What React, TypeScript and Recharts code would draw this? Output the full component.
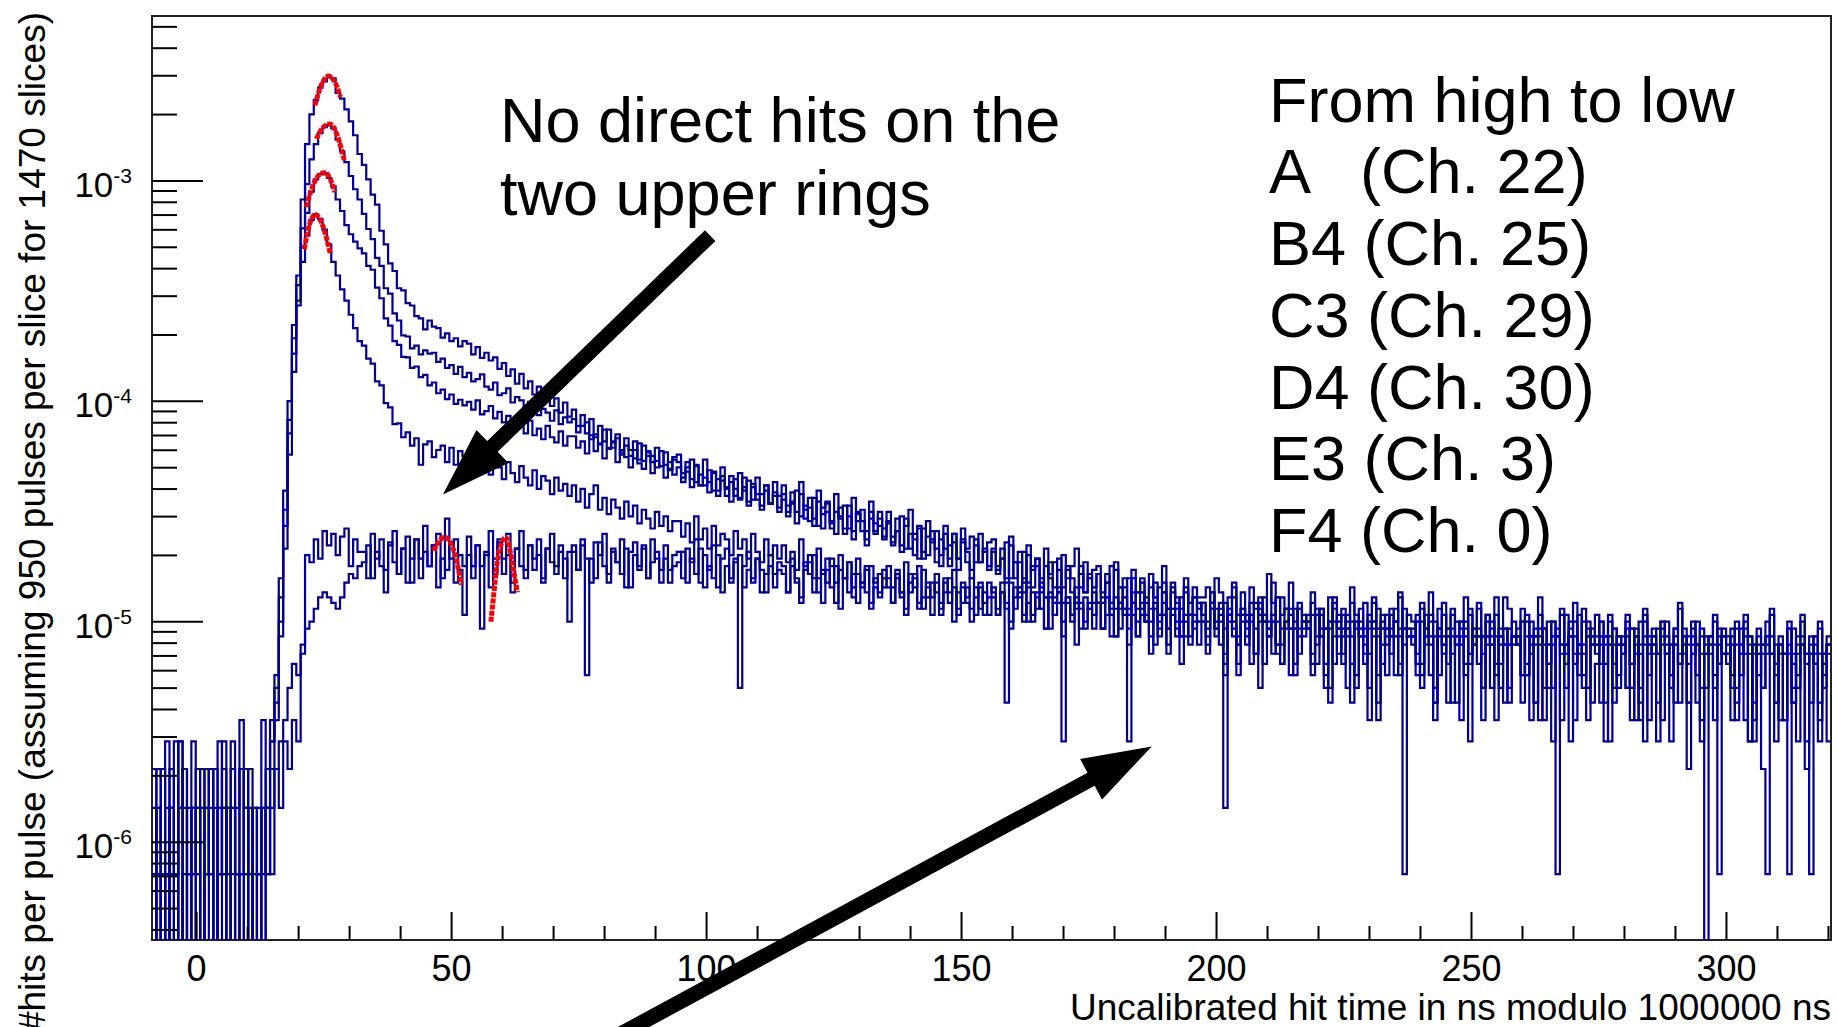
import React from 'react';
import { ComposedChart, Line, XAxis, YAxis, ReferenceArea, ReferenceLine } from 'recharts';

const WIDTH = 1837;
const HEIGHT = 1027;
const PLOT_LEFT = 152;
const PLOT_TOP = 16;
const PLOT_RIGHT = 1831;
const PLOT_BOTTOM = 940;

const FONT = '"Liberation Sans", Arial, Helvetica, sans-serif';
const HIST_COLOR = '#000099';
const FIT_COLOR = '#ff0000';

// time axis, ns (histogram range and binning)
const X_MIN = -8.75;
const X_MAX = 320.5;
const N_BINS = 384;
const BIN_WIDTH = (X_MAX - X_MIN) / N_BINS;

// rate axis, hits per pulse
const Y_MIN = 3.6e-7;
const Y_MAX = 5.6e-3;

// 950 pulses per slice, 1470 slices
const PULSES = 950 * 1470;
const EMPTY = 1e-8; // empty bins fall below the frame

const X_TICKS = [0, 10, 20, 30, 40, 50, 60, 70, 80, 90, 100, 110, 120, 130, 140, 150, 160, 170, 180, 190, 200, 210, 220, 230, 240, 250, 260, 270, 280, 290, 300, 310, 320];
const X_LABELED = [0, 50, 100, 150, 200, 250, 300];

const Y_TICKS = [
  4e-7, 5e-7, 6e-7, 7e-7, 8e-7, 9e-7,
  1e-6, 2e-6, 3e-6, 4e-6, 5e-6, 6e-6, 7e-6, 8e-6, 9e-6,
  1e-5, 2e-5, 3e-5, 4e-5, 5e-5, 6e-5, 7e-5, 8e-5, 9e-5,
  1e-4, 2e-4, 3e-4, 4e-4, 5e-4, 6e-4, 7e-4, 8e-4, 9e-4,
  1e-3, 2e-3, 3e-3, 4e-3, 5e-3,
];
const Y_MAJOR = [1e-6, 1e-5, 1e-4, 1e-3];
const Y_EXPONENTS = ['-6', '-5', '-4', '-3'];

// hit counts per bin, 24 bins per line
const countsA = [
  1, 0, 3, 0, 2, 1, 4, 0, 1, 2, 3, 0, 1, 2, 0, 4, 1, 2, 0, 1, 3, 2, 0, 2,
  1, 2, 1, 5, 8, 22, 55, 140, 310, 520, 1150, 2050, 2800, 3250, 3700, 3950, 4150, 4080, 3500, 3300, 2950, 2600, 2250, 1850,
  1650, 1420, 1210, 1090, 830, 720, 590, 545, 455, 445, 390, 380, 340, 332, 296, 325, 305, 300, 272, 284, 262, 270, 248, 262,
  255, 228, 246, 220, 232, 214, 221, 196, 208, 182, 195, 168, 186, 160, 172, 150, 163, 141, 158, 133, 144, 124, 138, 119,
  128, 108, 121, 100, 116, 96, 108, 92, 104, 86, 99, 84, 95, 79, 92, 76, 88, 83, 74, 86, 71, 82, 68, 78,
  80, 66, 74, 62, 71, 58, 76, 60, 67, 55, 70, 57, 64, 52, 66, 55, 61, 50, 63, 53, 58, 48, 60, 52,
  58, 47, 54, 44, 60, 45, 51, 41, 55, 43, 49, 39, 53, 42, 47, 37, 51, 40, 45, 36, 49, 39, 44, 37,
  44, 34, 41, 31, 38, 45, 33, 37, 29, 40, 32, 36, 28, 38, 31, 35, 27, 37, 30, 34, 26, 35, 29, 32,
  33, 25, 30, 22, 34, 26, 29, 21, 31, 24, 27, 20, 30, 23, 26, 19, 28, 22, 25, 30, 20, 26, 22, 24,
  25, 19, 23, 17, 26, 20, 22, 16, 24, 19, 21, 15, 23, 18, 20, 25, 16, 21, 18, 14, 22, 17, 20, 18,
  18, 20, 17, 22, 19, 13, 18, 21, 15, 19, 12, 20, 16, 18, 14, 23, 17, 11, 18, 16, 21, 14, 17, 13,
  15, 19, 12, 16, 13, 18, 9, 14, 16, 12, 20, 15, 13, 17, 10, 18, 13, 15, 8, 16, 14, 19, 13, 15,
  14, 10, 17, 13, 19, 14, 8, 15, 13, 16, 11, 14, 18, 9, 13, 17, 12, 14, 7, 15, 11, 18, 16, 12,
  13, 16, 9, 14, 12, 18, 13, 7, 14, 12, 15, 10, 13, 17, 8, 16, 12, 13, 11, 14, 6, 15, 13, 11,
  12, 15, 9, 13, 7, 16, 12, 13, 10, 14, 12, 8, 13, 17, 11, 12, 14, 6, 13, 11, 12, 15, 9, 13,
  12, 8, 14, 11, 15, 12, 6, 13, 11, 12, 16, 9, 12, 10, 14, 7, 12, 15, 10, 12, 9, 14, 10, 12,
];

const countsB4 = [
  2, 1, 0, 4, 1, 0, 2, 3, 0, 1, 2, 0, 3, 1, 2, 0, 1, 2, 4, 0, 1, 3, 1, 0,
  2, 1, 3, 4, 7, 18, 45, 115, 270, 470, 850, 1350, 1750, 2050, 2300, 2450, 2500, 2420, 2150, 1900, 1700, 1470, 1280, 1150,
  990, 845, 760, 625, 575, 455, 430, 350, 325, 278, 275, 243, 250, 228, 238, 230, 232, 211, 218, 198, 204, 186, 200, 180,
  188, 172, 176, 185, 163, 158, 170, 149, 152, 160, 138, 146, 141, 127, 139, 133, 121, 129, 124, 114, 127, 110, 118, 112,
  116, 101, 108, 112, 94, 99, 90, 104, 86, 92, 95, 80, 88, 84, 77, 90, 75, 82, 79, 70, 83, 72, 69, 76,
  74, 63, 70, 76, 60, 65, 58, 68, 55, 62, 64, 52, 60, 56, 50, 63, 49, 57, 53, 47, 58, 48, 54, 46,
  53, 44, 49, 55, 42, 47, 40, 51, 38, 46, 48, 37, 44, 41, 35, 47, 36, 43, 40, 33, 44, 36, 41, 34,
  40, 32, 36, 42, 30, 35, 28, 38, 27, 34, 36, 26, 33, 30, 25, 35, 27, 32, 29, 24, 33, 26, 30, 25,
  30, 24, 27, 32, 22, 26, 20, 29, 21, 25, 27, 19, 25, 22, 18, 27, 20, 24, 22, 17, 25, 19, 23, 20,
  23, 17, 21, 25, 16, 20, 15, 22, 17, 19, 22, 14, 20, 18, 13, 21, 16, 19, 17, 12, 20, 15, 18, 16,
  17, 13, 19, 16, 11, 17, 15, 20, 12, 16, 15, 9, 17, 15, 18, 14, 21, 10, 15, 16, 13, 8, 16, 15,
  14, 17, 11, 15, 9, 14, 18, 13, 15, 7, 14, 13, 16, 10, 14, 17, 8, 13, 15, 12, 14, 18, 11, 13,
  13, 9, 16, 12, 14, 6, 13, 17, 12, 10, 14, 13, 8, 16, 12, 13, 10, 15, 12, 18, 9, 13, 11, 14,
  12, 8, 15, 11, 13, 12, 5, 14, 11, 12, 16, 9, 12, 14, 10, 7, 13, 12, 15, 9, 12, 11, 13, 8,
  11, 14, 9, 12, 6, 15, 11, 12, 10, 13, 11, 7, 12, 16, 10, 11, 13, 8, 12, 10, 11, 14, 1, 12,
  11, 7, 13, 10, 14, 11, 5, 12, 10, 11, 15, 8, 11, 10, 13, 6, 11, 14, 9, 11, 10, 13, 8, 11,
];

const countsC3 = [
  1, 3, 0, 1, 2, 4, 0, 1, 2, 0, 1, 3, 2, 1, 0, 2, 3, 0, 1, 2, 5, 1, 1, 2,
  0, 2, 2, 4, 6, 14, 38, 100, 230, 400, 700, 1000, 1250, 1420, 1500, 1510, 1440, 1320, 1150, 1020, 880, 800, 740, 690,
  655, 575, 552, 458, 410, 332, 308, 262, 252, 222, 221, 198, 201, 180, 184, 165, 170, 152, 158, 143, 150, 136, 142, 134,
  139, 128, 141, 122, 126, 133, 117, 125, 112, 120, 106, 116, 109, 100, 114, 98, 105, 94, 108, 96, 91, 102, 88, 97,
  97, 86, 92, 81, 98, 83, 89, 77, 85, 91, 74, 82, 78, 70, 84, 73, 69, 79, 66, 75, 71, 63, 74, 65,
  70, 60, 67, 57, 72, 58, 63, 54, 66, 52, 61, 56, 49, 62, 51, 57, 47, 59, 50, 45, 55, 48, 52, 44,
  50, 42, 48, 39, 53, 41, 46, 38, 49, 37, 44, 40, 35, 46, 37, 42, 33, 44, 36, 31, 41, 35, 38, 33,
  39, 31, 36, 29, 41, 30, 35, 27, 37, 28, 33, 30, 25, 35, 27, 32, 24, 33, 26, 22, 31, 26, 29, 24,
  29, 23, 27, 21, 31, 22, 26, 19, 28, 20, 25, 22, 18, 26, 20, 24, 17, 25, 19, 16, 23, 19, 22, 17,
  23, 18, 21, 16, 24, 17, 20, 15, 22, 16, 19, 17, 14, 21, 15, 19, 13, 20, 16, 12, 19, 15, 18, 14,
  17, 14, 19, 13, 16, 2, 15, 18, 11, 16, 14, 15, 10, 17, 14, 12, 15, 18, 9, 14, 15, 13, 16, 14,
  14, 10, 16, 13, 8, 14, 17, 12, 13, 15, 9, 14, 12, 13, 7, 14, 16, 11, 13, 10, 14, 12, 16, 13,
  12, 15, 9, 13, 8, 12, 16, 10, 13, 12, 6, 14, 12, 10, 13, 9, 12, 15, 11, 12, 7, 13, 11, 12,
  11, 14, 8, 12, 6, 15, 11, 9, 12, 13, 5, 11, 12, 9, 15, 11, 7, 12, 11, 14, 9, 12, 6, 11,
  11, 7, 13, 10, 14, 11, 5, 12, 10, 11, 14, 8, 11, 9, 13, 6, 11, 14, 10, 7, 12, 11, 9, 12,
  10, 13, 7, 11, 5, 12, 10, 8, 11, 14, 10, 6, 11, 10, 1, 13, 8, 11, 10, 6, 12, 10, 7, 11,
];

const countsD4 = [
  0, 2, 1, 0, 3, 1, 2, 0, 1, 4, 0, 2, 1, 3, 0, 1, 2, 0, 2, 1, 3, 0, 2, 1,
  1, 0, 2, 3, 5, 12, 30, 80, 190, 380, 600, 790, 930, 985, 940, 840, 720, 600, 520, 450, 400, 345, 300, 262,
  250, 218, 207, 172, 165, 137, 131, 110, 111, 96, 101, 88, 95, 72, 89, 92, 78, 84, 88, 74, 86, 72, 83, 79,
  82, 71, 79, 68, 80, 65, 76, 70, 62, 74, 66, 60, 71, 63, 58, 68, 56, 64, 61, 53, 63, 55, 59, 52,
  58, 49, 56, 46, 53, 58, 45, 51, 43, 50, 46, 41, 49, 42, 47, 39, 45, 41, 37, 44, 38, 42, 36, 40,
  40, 34, 39, 32, 42, 33, 37, 30, 38, 31, 35, 33, 28, 36, 30, 33, 27, 35, 29, 26, 33, 28, 31, 27,
  31, 26, 29, 24, 33, 25, 28, 22, 30, 23, 27, 25, 21, 28, 22, 26, 20, 27, 21, 19, 25, 21, 23, 20,
  25, 20, 23, 18, 26, 19, 22, 17, 24, 18, 21, 19, 16, 22, 17, 20, 15, 21, 17, 14, 20, 16, 19, 15,
  20, 16, 19, 6, 21, 16, 19, 14, 20, 15, 18, 16, 13, 19, 15, 17, 12, 18, 15, 11, 17, 14, 16, 13,
  17, 13, 15, 12, 18, 13, 16, 11, 17, 12, 15, 14, 10, 16, 12, 15, 10, 16, 13, 9, 15, 12, 14, 11,
  14, 11, 16, 13, 17, 10, 14, 13, 8, 15, 13, 14, 10, 16, 9, 13, 14, 11, 13, 16, 8, 13, 12, 14,
  13, 9, 15, 12, 7, 13, 16, 10, 12, 13, 6, 14, 12, 9, 13, 12, 5, 13, 11, 15, 12, 8, 13, 12,
  12, 8, 14, 11, 15, 7, 12, 11, 6, 13, 11, 12, 9, 15, 11, 12, 5, 11, 13, 8, 12, 11, 7, 12,
  11, 14, 8, 12, 6, 11, 13, 9, 14, 1, 11, 7, 12, 10, 11, 14, 5, 11, 10, 12, 4, 11, 9, 12,
  10, 13, 7, 11, 5, 12, 10, 11, 6, 14, 10, 4, 11, 9, 12, 6, 10, 11, 5, 12, 10, 7, 11, 10,
  10, 5, 11, 8, 13, 10, 4, 11, 7, 10, 12, 6, 10, 5, 11, 10, 7, 12, 10, 1, 11, 6, 10, 4,
];

const countsE3 = [
  0, 2, 1, 0, 2, 1, 0, 3, 1, 2, 1, 0, 2, 3, 0, 1, 2, 1, 3, 0, 1, 2, 0, 1,
  1, 0, 2, 1, 3, 2, 4, 3, 5, 4, 10, 28, 26, 33, 27, 36, 31, 35, 28, 34, 37, 25, 33, 29,
  29, 22, 35, 27, 33, 24, 31, 36, 23, 30, 34, 21, 33, 27, 38, 25, 31, 35, 22, 41, 27, 33, 24, 15,
  34, 25, 31, 13, 28, 36, 23, 32, 27, 35, 21, 30, 36, 24, 31, 27, 33, 22, 30, 35, 25, 31, 22, 29,
  31, 24, 33, 27, 21, 32, 28, 35, 23, 30, 26, 33, 20, 29, 32, 24, 30, 22, 33, 27, 24, 31, 21, 28,
  29, 22, 30, 26, 33, 21, 28, 24, 31, 20, 27, 30, 22, 27, 7, 25, 29, 21, 27, 24, 19, 28, 23, 26,
  25, 19, 27, 22, 18, 26, 23, 28, 19, 24, 21, 27, 17, 24, 22, 26, 18, 23, 20, 25, 17, 22, 19, 24,
  22, 17, 24, 19, 16, 23, 20, 25, 16, 21, 18, 23, 15, 21, 19, 24, 16, 20, 18, 22, 15, 20, 17, 21,
  19, 15, 21, 17, 14, 20, 18, 22, 14, 19, 16, 21, 13, 18, 17, 20, 14, 18, 15, 20, 13, 18, 16, 19,
  17, 13, 18, 15, 12, 17, 16, 4, 19, 14, 16, 18, 12, 17, 14, 19, 11, 16, 14, 18, 12, 15, 13, 17,
  15, 12, 17, 14, 15, 9, 16, 14, 11, 15, 14, 17, 10, 14, 15, 12, 14, 18, 9, 14, 13, 16, 10, 14,
  13, 15, 9, 16, 13, 7, 14, 13, 10, 14, 17, 8, 13, 11, 15, 13, 6, 14, 12, 13, 16, 9, 13, 12,
  12, 14, 8, 15, 12, 6, 13, 12, 9, 15, 12, 5, 13, 10, 12, 16, 7, 12, 14, 9, 12, 6, 13, 11,
  12, 8, 14, 10, 12, 5, 13, 11, 7, 12, 11, 15, 4, 12, 11, 8, 14, 11, 12, 6, 11, 14, 7, 12,
  11, 7, 13, 5, 11, 14, 8, 11, 4, 12, 10, 11, 13, 6, 11, 9, 12, 11, 7, 0, 11, 8, 13, 10,
  10, 12, 6, 13, 10, 4, 11, 10, 7, 12, 10, 11, 5, 10, 13, 6, 10, 11, 4, 10, 12, 5, 10, 11,
];

const countsF4 = [
  3, 0, 1, 2, 0, 1, 4, 2, 0, 1, 2, 0, 1, 0, 3, 1, 4, 0, 2, 1, 0, 1, 3, 0,
  1, 5, 1, 2, 3, 4, 5, 7, 9, 8, 11, 13, 14, 16, 18, 19, 18, 17, 16, 18, 21, 23, 22, 25,
  26, 31, 22, 29, 25, 19, 32, 26, 23, 30, 21, 27, 33, 22, 29, 25, 31, 20, 27, 24, 32, 21, 28, 25,
  28, 22, 31, 25, 29, 20, 27, 33, 23, 28, 19, 30, 25, 22, 31, 24, 28, 21, 30, 26, 23, 29, 27, 14,
  29, 24, 31, 8, 27, 22, 32, 25, 21, 29, 26, 23, 30, 20, 28, 25, 31, 22, 26, 29, 21, 27, 24, 25,
  26, 29, 21, 27, 23, 30, 20, 25, 22, 28, 19, 25, 21, 26, 28, 20, 24, 22, 27, 19, 23, 25, 20, 24,
  23, 19, 25, 21, 17, 24, 26, 19, 22, 17, 24, 20, 25, 16, 22, 19, 23, 17, 21, 24, 16, 20, 18, 22,
  20, 17, 22, 19, 15, 21, 23, 16, 18, 20, 15, 21, 17, 19, 22, 14, 19, 17, 20, 16, 18, 21, 15, 18,
  18, 15, 19, 16, 13, 18, 20, 15, 17, 14, 19, 16, 18, 13, 17, 19, 4, 17, 14, 18, 16, 13, 17, 15,
  17, 13, 18, 15, 12, 16, 18, 13, 15, 12, 17, 14, 16, 11, 15, 17, 13, 15, 12, 16, 14, 11, 15, 14,
  14, 10, 16, 12, 14, 8, 15, 12, 9, 14, 11, 15, 13, 7, 15, 13, 10, 14, 11, 13, 16, 9, 13, 12,
  13, 8, 15, 12, 13, 6, 12, 15, 9, 13, 12, 7, 14, 12, 5, 14, 12, 9, 13, 12, 8, 13, 1, 12,
  11, 14, 7, 12, 11, 5, 13, 11, 12, 6, 12, 11, 14, 4, 11, 12, 7, 12, 11, 5, 13, 11, 6, 12,
  11, 6, 12, 5, 11, 13, 7, 11, 4, 12, 10, 11, 14, 5, 11, 10, 12, 6, 9, 11, 12, 4, 11, 7,
  10, 12, 5, 12, 10, 4, 11, 10, 13, 5, 10, 11, 6, 10, 12, 3, 10, 11, 4, 10, 11, 5, 12, 10,
  9, 11, 5, 10, 12, 4, 11, 10, 3, 1, 10, 4, 11, 5, 10, 9, 4, 11, 3, 10, 9, 4, 9, 10,
];

// gaussian fits around the prompt peaks: [t (ns), rate]
const fitA = [[23.2, 2.2e-3], [24.0, 2.55e-3], [24.9, 2.85e-3], [25.9, 2.99e-3], [26.8, 2.88e-3], [27.6, 2.65e-3], [28.2, 2.4e-3]];
const fitB4 = [[23.5, 1.55e-3], [24.4, 1.7e-3], [25.3, 1.79e-3], [26.1, 1.81e-3], [27.0, 1.73e-3], [28.0, 1.5e-3], [29.0, 1.23e-3]];
const fitC3 = [[21.5, 7.6e-4], [22.5, 9.1e-4], [23.5, 1.03e-3], [24.4, 1.08e-3], [25.2, 1.09e-3], [26.2, 1.02e-3], [27.1, 8.9e-4]];
const fitD4 = [[21.1, 4.9e-4], [21.8, 5.9e-4], [22.5, 6.7e-4], [23.2, 7.05e-4], [24.1, 6.75e-4], [25.1, 5.9e-4], [26.2, 4.7e-4]];
const fitE3a = [[46.5, 2.1e-5], [47.6, 2.33e-5], [48.7, 2.42e-5], [49.7, 2.3e-5], [50.6, 2.05e-5], [51.3, 1.75e-5], [51.9, 1.47e-5]];
const fitE3b = [[57.7, 1.0e-5], [58.3, 1.35e-5], [58.8, 1.75e-5], [59.6, 2.2e-5], [60.6, 2.42e-5], [61.3, 2.2e-5], [61.9, 1.85e-5], [62.9, 1.36e-5]];

const legendLines = ['From high to low', 'A   (Ch. 22)', 'B4 (Ch. 25)', 'C3 (Ch. 29)', 'D4 (Ch. 30)', 'E3 (Ch. 3)', 'F4 (Ch. 0)'];
const noteLines = ['No direct hits on the', 'two upper rings'];

// arrow annotations in data coordinates (tail -> tip)
const arrowRings = [{ x: 100.7, y: 5.65e-4 }, { x: 48.3, y: 3.78e-5 }];
const arrowTail = [{ x: 79.1, y: 1.2e-7 }, { x: 187.3, y: 2.72e-6 }];

const toRate = (c: number) => (c > 0 ? c / PULSES : EMPTY);

const histData = Array.from({ length: N_BINS + 1 }, (_, i) => {
  const k = Math.min(i, N_BINS - 1);
  return {
    t: X_MIN + i * BIN_WIDTH,
    A: toRate(countsA[k]),
    B4: toRate(countsB4[k]),
    C3: toRate(countsC3[k]),
    D4: toRate(countsD4[k]),
    E3: toRate(countsE3[k]),
    F4: toRate(countsF4[k]),
  };
});

const toPoints = (fit: number[][]) => fit.map(([t, v]) => ({ t, v }));

const XTick = (props: any) => {
  const { x, payload } = props;
  const v = payload.value;
  const labeled = X_LABELED.includes(v);
  return (
    <g>
      <line x1={x} x2={x} y1={PLOT_BOTTOM} y2={PLOT_BOTTOM - (labeled ? 28 : 14)} stroke="#000" strokeWidth={2} />
      {labeled && (
        <text x={x} y={PLOT_BOTTOM + 41} textAnchor="middle" fontSize={36} fontFamily={FONT} fill="#000">
          {v}
        </text>
      )}
    </g>
  );
};

const YTick = (props: any) => {
  const { y, payload } = props;
  const v = payload.value;
  const idx = Y_MAJOR.findIndex((m) => Math.abs(m - v) < m * 1e-6);
  const major = idx >= 0;
  return (
    <g>
      <line x1={PLOT_LEFT} x2={PLOT_LEFT + (major ? 51 : 25)} y1={y} y2={y} stroke="#000" strokeWidth={2} />
      {major && (
        <text x={PLOT_LEFT - 20} y={y + 16} textAnchor="end" fontFamily={FONT} fill="#000">
          <tspan fontSize={35}>10</tspan>
          <tspan fontSize={21} dy={-14}>{Y_EXPONENTS[idx]}</tspan>
        </text>
      )}
    </g>
  );
};

const SHAFT = 15;
const HEAD_LEN = 69;
const HEAD_HALF = 23;

const ArrowShape = (props: any) => {
  const { x1, y1, x2, y2 } = props;
  const len = Math.hypot(x2 - x1, y2 - y1);
  const ux = (x2 - x1) / len;
  const uy = (y2 - y1) / len;
  const nx = -uy;
  const ny = ux;
  const bx = x2 - ux * HEAD_LEN;
  const by = y2 - uy * HEAD_LEN;
  const pts = [
    [x1 + (nx * SHAFT) / 2, y1 + (ny * SHAFT) / 2],
    [bx + (nx * SHAFT) / 2, by + (ny * SHAFT) / 2],
    [bx + nx * HEAD_HALF, by + ny * HEAD_HALF],
    [x2, y2],
    [bx - nx * HEAD_HALF, by - ny * HEAD_HALF],
    [bx - (nx * SHAFT) / 2, by - (ny * SHAFT) / 2],
    [x1 - (nx * SHAFT) / 2, y1 - (ny * SHAFT) / 2],
  ];
  return <polygon points={pts.map((p) => p.join(',')).join(' ')} fill="#000" />;
};

const seriesKeys = ['A', 'B4', 'C3', 'D4', 'E3', 'F4'];
const fits = [fitA, fitB4, fitC3, fitD4, fitE3a, fitE3b];

export default function App() {
  return (
    <div style={{ position: 'absolute', left: 0, top: 0, width: WIDTH, height: HEIGHT, background: '#fff' }}>
      <ComposedChart
        width={WIDTH}
        height={HEIGHT}
        data={histData}
        margin={{ top: PLOT_TOP, right: WIDTH - PLOT_RIGHT, bottom: 0, left: 0 }}
      >
        <XAxis
          dataKey="t"
          type="number"
          domain={[X_MIN, X_MAX]}
          allowDataOverflow
          ticks={X_TICKS}
          interval={0}
          tick={<XTick />}
          tickLine={false}
          axisLine={false}
          height={HEIGHT - PLOT_BOTTOM}
        />
        <YAxis
          type="number"
          scale="log"
          domain={[Y_MIN, Y_MAX]}
          allowDataOverflow
          ticks={Y_TICKS}
          interval={0}
          tick={<YTick />}
          tickLine={false}
          axisLine={false}
          width={PLOT_LEFT}
        />
        <ReferenceArea x1={X_MIN} x2={X_MAX} y1={Y_MIN} y2={Y_MAX} fill="none" stroke="#222" strokeWidth={2} />
        {seriesKeys.map((key) => (
          <Line
            key={key}
            dataKey={key}
            type="stepAfter"
            stroke={HIST_COLOR}
            strokeWidth={2.2}
            dot={false}
            activeDot={false}
            isAnimationActive={false}
          />
        ))}
        {fits.map((fit, i) => (
          <Line
            key={`fit-${i}`}
            data={toPoints(fit)}
            dataKey="v"
            type="monotone"
            stroke={FIT_COLOR}
            strokeWidth={5}
            strokeDasharray="5 1.2"
            dot={false}
            activeDot={false}
            isAnimationActive={false}
          />
        ))}
        <ReferenceLine segment={arrowRings} ifOverflow="visible" shape={ArrowShape} />
        <ReferenceLine segment={arrowTail} ifOverflow="visible" shape={ArrowShape} />
      </ComposedChart>
      <svg
        width={WIDTH}
        height={HEIGHT}
        style={{ position: 'absolute', left: 0, top: 0, pointerEvents: 'none' }}
        fontFamily={FONT}
      >
        <text transform="translate(45,12) rotate(-90)" textAnchor="end" fontSize={37} fill="#000">
          #hits per pulse (assuming 950 pulses per slice for 1470 slices)
        </text>
        <text x={PLOT_RIGHT} y={1020} textAnchor="end" fontSize={37} fill="#000">
          Uncalibrated hit time in ns modulo 1000000 ns
        </text>
        {noteLines.map((line, i) => (
          <text key={line} x={500} y={142 + i * 72.5} fontSize={63} fill="#000">
            {line}
          </text>
        ))}
        {legendLines.map((line, i) => (
          <text key={line} x={1269} y={121.7 + i * 71.7} fontSize={63} fill="#000" xmlSpace="preserve" style={{ whiteSpace: 'pre' }}>
            {line}
          </text>
        ))}
      </svg>
    </div>
  );
}
